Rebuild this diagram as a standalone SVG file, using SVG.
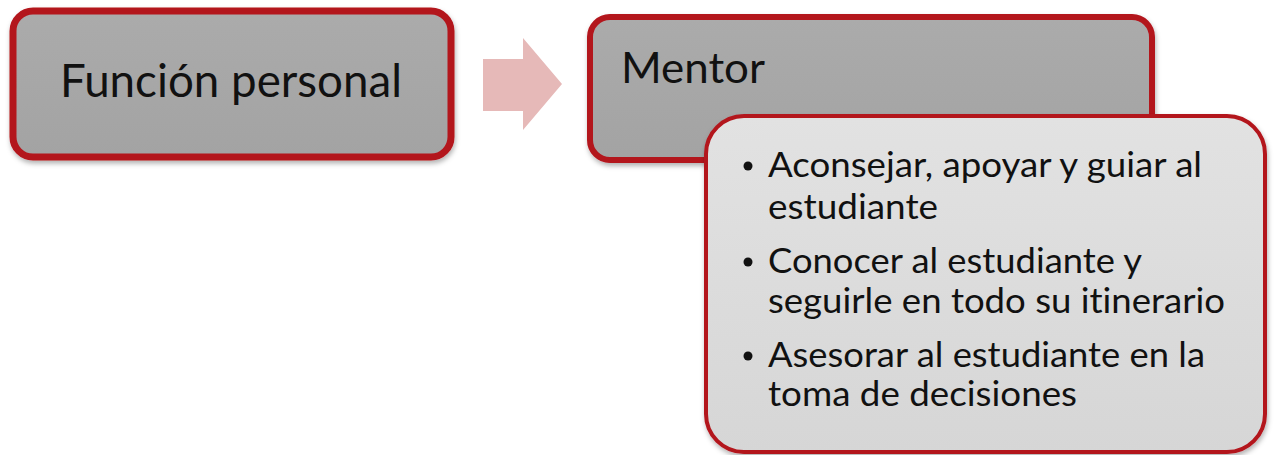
<svg xmlns="http://www.w3.org/2000/svg" width="1277" height="455" viewBox="0 0 1277 455">
  <defs>
    <linearGradient id="gDark" x1="0" y1="0" x2="0" y2="1">
      <stop offset="0" stop-color="#ababab"/>
      <stop offset="1" stop-color="#a3a3a3"/>
    </linearGradient>
    <linearGradient id="gLight" x1="0" y1="0" x2="0" y2="1">
      <stop offset="0" stop-color="#e2e2e2"/>
      <stop offset="1" stop-color="#d6d6d6"/>
    </linearGradient>
    <filter id="shadow" x="-5%" y="-5%" width="110%" height="115%">
      <feDropShadow dx="1" dy="3" stdDeviation="2.5" flood-color="#000" flood-opacity="0.3"/>
    </filter>
  </defs>
  <style>
    .box { stroke: #b3141c; filter: url(#shadow); }
    .title { font-family: Lato, "Noto Sans", "Liberation Sans", sans-serif; fill: #111; font-variant-ligatures: none; font-feature-settings: "liga" 0; }
    .item { font-family: Lato, "Noto Sans", "Liberation Sans", sans-serif; font-size: 34px; fill: #111; font-variant-ligatures: none; font-feature-settings: "liga" 0; }
    .arrow { fill: #e6b9b8; }
  </style>
  <rect width="1277" height="455" fill="#ffffff"/>

  <g id="connectors">
    <polygon class="arrow" points="483,59 523,59 523,38 562,84 523,130 523,111 483,111"/>
  </g>

  <g id="node-funcion">
    <rect class="box" x="13" y="11" width="438" height="146" rx="20" ry="20" fill="url(#gDark)" stroke-width="7"/>
    <text class="title" x="60" y="97" font-size="46" textLength="342" lengthAdjust="spacingAndGlyphs">Función personal</text>
  </g>

  <g id="node-mentor">
    <rect class="box" x="590" y="17" width="562" height="143" rx="20" ry="20" fill="url(#gDark)" stroke-width="6"/>
    <text class="title" x="621" y="83" font-size="43" textLength="144" lengthAdjust="spacingAndGlyphs">Mentor</text>
  </g>

  <g id="node-detalle">
    <rect class="box" x="706" y="116" width="559" height="336" rx="38" ry="38" fill="url(#gLight)" stroke-width="4"/>
    <circle cx="748" cy="166" r="4.5" fill="#111"/>
    <circle cx="748" cy="262" r="4.5" fill="#111"/>
    <circle cx="748" cy="356" r="4.5" fill="#111"/>
    <text class="item" x="768" y="177" textLength="434" lengthAdjust="spacingAndGlyphs">Aconsejar, apoyar y guiar al</text>
    <text class="item" x="768" y="219" textLength="170" lengthAdjust="spacingAndGlyphs">estudiante</text>
    <text class="item" x="768" y="273" textLength="374" lengthAdjust="spacingAndGlyphs">Conocer al estudiante y</text>
    <text class="item" x="768" y="313" textLength="457" lengthAdjust="spacingAndGlyphs">seguirle en todo su itinerario</text>
    <text class="item" x="768" y="367" textLength="437" lengthAdjust="spacingAndGlyphs">Asesorar al estudiante en la</text>
    <text class="item" x="768" y="406" textLength="309" lengthAdjust="spacingAndGlyphs">toma de decisiones</text>
  </g>
</svg>
